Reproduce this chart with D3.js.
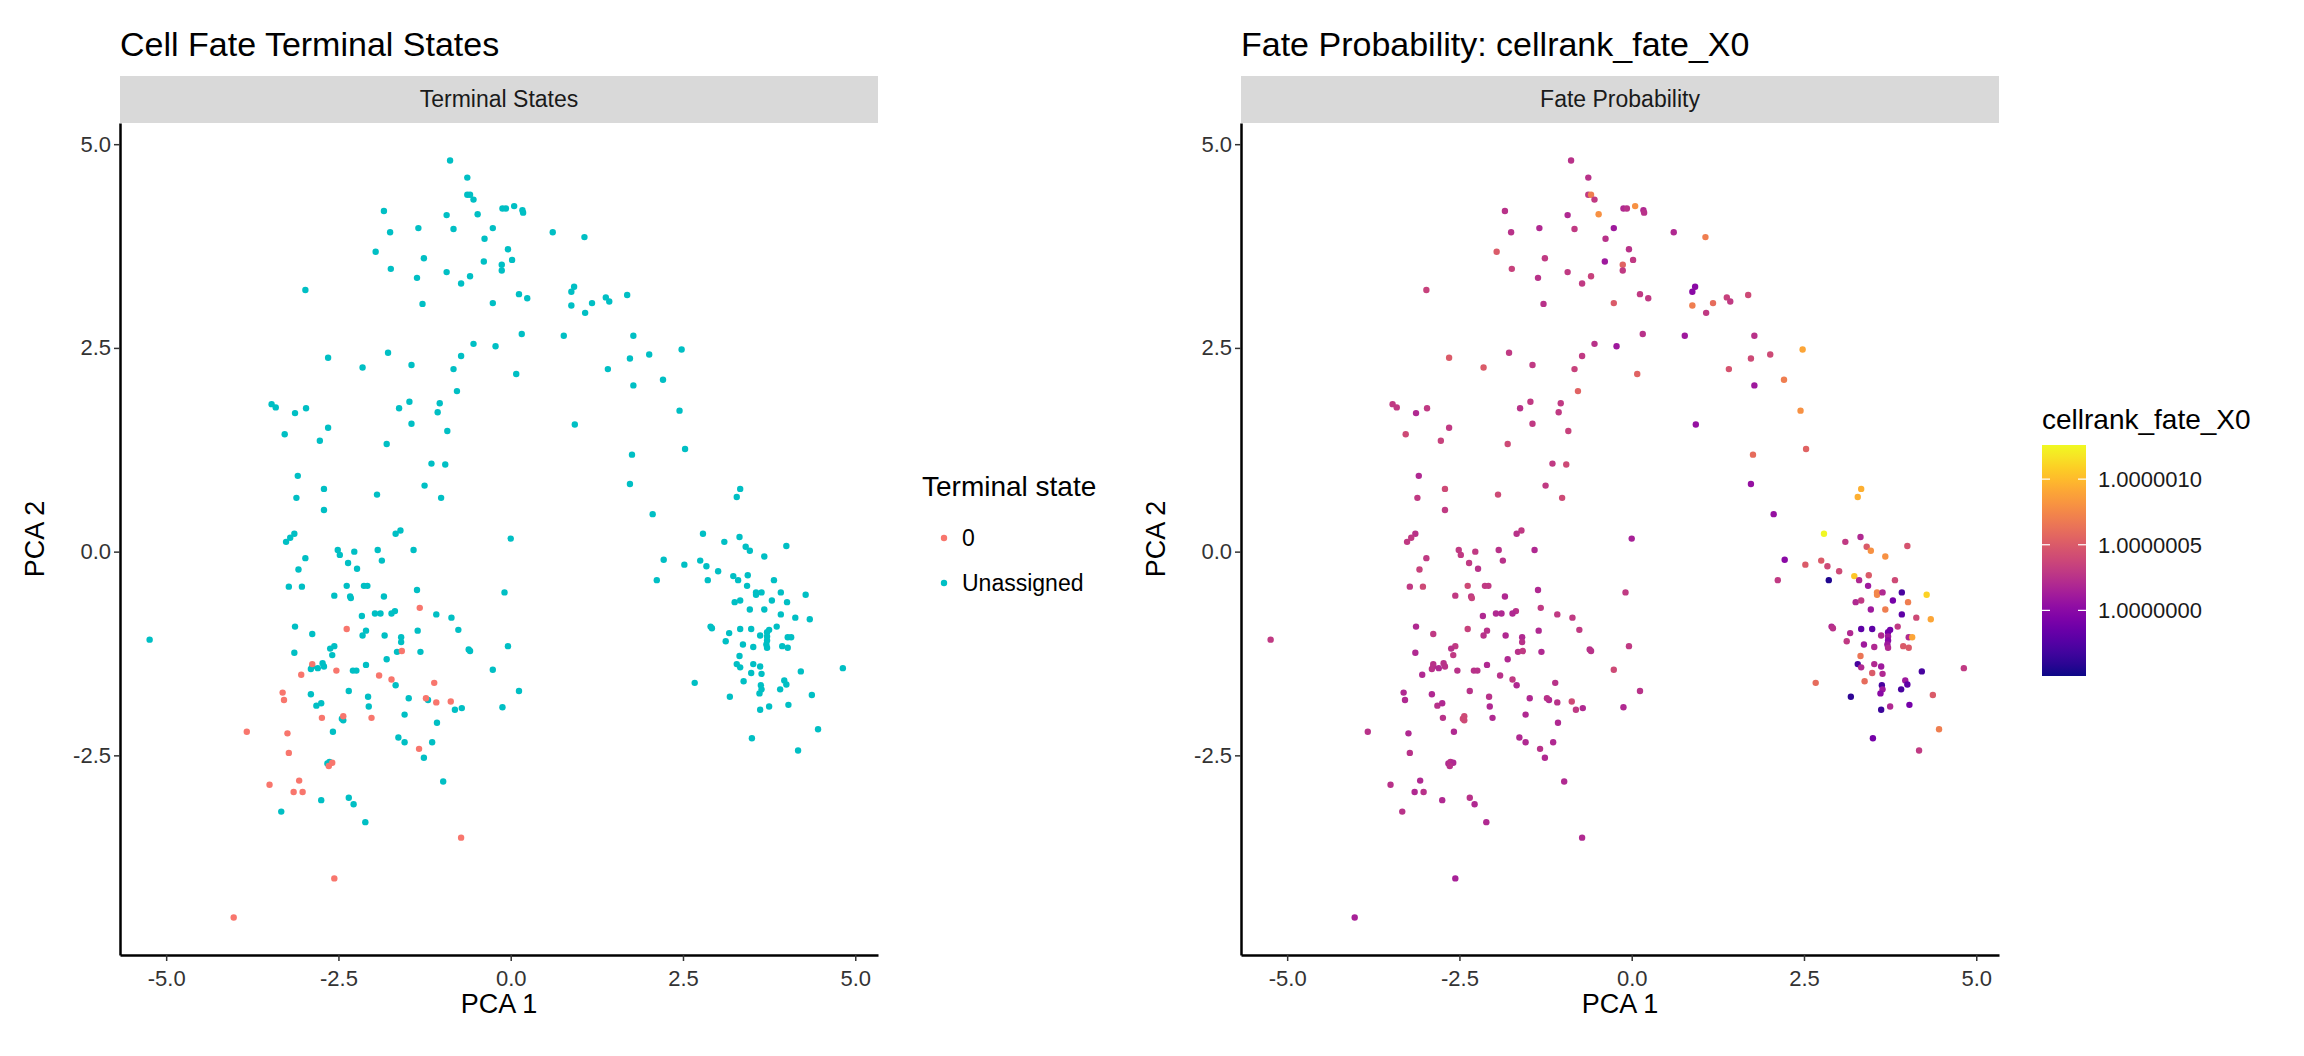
<!DOCTYPE html>
<html><head><meta charset="utf-8">
<script src="https://cdn.jsdelivr.net/npm/d3@7"></script>
<style>body{margin:0;background:#fff}text{font-family:"Liberation Sans",Arial,sans-serif}</style>
</head><body><svg id="c" width="2304" height="1056"></svg>
<script>
// [PCA1, PCA2, fate offset in units of 1e-7 above 1.0]
const unassignedCells = [
[-0.88,4.80,2.5],[-0.63,4.59,2.5],[-0.63,4.38,3],[-0.59,4.38,7],[-0.54,4.32,3],[-0.12,4.21,2],[-0.07,4.21,2.5],[0.05,4.24,8],[0.17,4.19,2],[0.18,4.16,2.5],
[-1.84,4.18,2.5],[-0.93,4.13,2],[-0.48,4.14,8],[-1.75,3.92,2.5],[-1.34,3.97,2],[-0.83,3.96,3],[-0.26,3.97,1],[-0.38,3.84,2.5],[0.61,3.92,2],[1.07,3.86,7],
[-1.96,3.68,5],[-1.26,3.60,3],[-0.04,3.71,2.5],[-0.39,3.56,1],[0.02,3.58,3],[-0.13,3.52,5.5],[-0.13,3.45,3],[-1.74,3.47,3.5],[-0.93,3.43,3],[-1.36,3.36,2.5],
[-0.59,3.38,3.5],[-0.72,3.29,3],[-2.98,3.21,3.5],[0.12,3.16,3],[0.24,3.11,3],[0.88,3.19,0],[0.92,3.25,0],[1.38,3.12,3.5],[1.43,3.07,3],[1.69,3.15,4],
[-1.28,3.04,2.5],[-0.26,3.05,5],[0.88,3.02,7],[1.18,3.05,6],[1.08,2.93,3],[0.16,2.67,2.5],[0.77,2.65,1],[1.78,2.65,2.5],[-0.54,2.55,2.5],[-0.22,2.52,1],
[2.48,2.48,9],[-1.78,2.44,3],[-0.72,2.40,3],[1.73,2.37,4],[2.01,2.42,4],[-2.65,2.38,5],[-1.44,2.29,3],[-2.15,2.26,5],[-0.83,2.24,3.5],[1.41,2.24,4.5],
[0.08,2.18,5.5],[2.21,2.11,7],[1.78,2.04,1],[-0.78,1.97,5.5],[-3.47,1.81,3],[-3.41,1.77,3],[-2.97,1.76,3],[-3.13,1.70,2],[-1.47,1.84,3],[-1.62,1.76,2.5],
[-1.03,1.82,3],[-1.06,1.71,3],[2.45,1.73,8],[-2.65,1.52,3],[-3.28,1.44,4],[-1.44,1.57,3],[0.93,1.56,0.5],[-0.92,1.48,3.5],[-2.77,1.36,3.5],[-1.80,1.32,4],
[2.53,1.26,5.5],[1.76,1.19,6],[-1.15,1.08,3],[-0.95,1.07,4],[-3.09,0.93,2],[-1.25,0.81,3],[-2.71,0.77,4],[1.73,0.83,0.5],[-1.94,0.70,4],[-3.11,0.66,3],
[-1.01,0.66,4],[3.33,0.77,9.5],[3.28,0.67,9.5],[-2.71,0.51,3],[2.06,0.46,0.5],[-1.60,0.26,3],[-1.67,0.22,2.5],[-3.14,0.22,2.5],[-3.20,0.17,3],[-3.26,0.12,3],
[0.00,0.16,1.5],[2.79,0.22,12.5],[3.10,0.12,3],[3.32,0.18,2],[3.41,0.06,5],[3.47,0.01,8],[4.00,0.07,4.5],[-2.51,0.02,3],[-2.48,-0.04,3],[-2.27,0.00,3],
[-1.93,0.02,2.5],[-1.41,0.02,2],[-1.87,-0.11,2.5],[-2.98,-0.08,3],[-2.36,-0.14,3],[-3.08,-0.22,3.5],[-2.23,-0.21,2.5],[2.22,-0.10,0],[2.52,-0.16,5],[2.75,-0.11,5],
[2.84,-0.18,4],[3.01,-0.24,4],[3.23,-0.30,10.5],[3.30,-0.35,2],[3.44,-0.29,5],[3.68,-0.06,8],[2.86,-0.35,-4.5],[2.12,-0.35,3],[3.43,-0.42,1],[3.56,-0.50,7.5],
[3.56,-0.53,7.5],[3.64,-0.50,2],[3.82,-0.35,4],[3.92,-0.50,-3],[4.28,-0.53,11],[-3.22,-0.43,3],[-3.03,-0.43,4],[-2.13,-0.42,3],[-2.08,-0.42,3],[-2.38,-0.42,4],
[-1.36,-0.47,2],[-2.56,-0.54,3],[-2.33,-0.55,3],[-2.32,-0.57,3.5],[-1.84,-0.55,2],[-0.09,-0.50,3],[3.25,-0.62,2],[3.33,-0.60,3],[3.79,-0.60,-1],[4.01,-0.62,7],
[3.47,-0.71,1],[3.68,-0.71,7],[3.92,-0.77,-2],[4.13,-0.81,4],[4.34,-0.83,9],[-1.97,-0.76,2],[-1.89,-0.76,2],[-1.68,-0.73,2.5],[-1.73,-0.76,2],[-2.16,-0.79,2],
[-1.08,-0.77,3],[-0.86,-0.81,3],[-3.13,-0.92,2],[2.90,-0.92,2],[2.92,-0.94,2.5],[3.33,-0.95,-2],[3.49,-0.95,-2],[3.86,-0.92,3],[3.72,-0.99,-1],[3.75,-0.96,-1],
[-2.10,-0.97,2.5],[-1.35,-0.97,2],[-0.76,-0.96,3],[-2.88,-1.01,3],[3.17,-1.00,2],[3.62,-1.03,2],[3.72,-1.04,1],[3.72,-1.09,0],[3.71,-1.14,1],[3.72,-1.18,2],
[4.02,-1.05,2],[4.07,-1.05,9],[3.94,-1.16,5],[4.02,-1.18,5],[3.12,-1.10,3],[3.37,-1.14,1],[3.52,-1.17,2],[-2.15,-1.03,2.5],[-1.83,-1.03,2],[-1.59,-1.05,2],
[-1.59,-1.11,2.5],[-2.56,-1.16,3],[-2.62,-1.19,2.5],[-0.61,-1.20,2.5],[-0.59,-1.22,2.5],[-0.04,-1.16,3],[-3.14,-1.24,2],[-1.31,-1.23,2],[-1.65,-1.23,2.5],[-1.80,-1.32,2],
[-2.59,-1.27,3],[-2.73,-1.37,2.5],[-2.71,-1.41,2.5],[-2.88,-1.41,2],[-2.90,-1.44,2.5],[-2.80,-1.43,2],[-2.10,-1.39,2],[-2.29,-1.46,2.5],[-2.24,-1.46,2.5],[-0.26,-1.45,4],
[3.32,-1.28,6.5],[3.28,-1.38,-3],[3.33,-1.42,2],[3.52,-1.38,2],[3.62,-1.41,1],[3.64,-1.50,2],[3.49,-1.49,5],[4.21,-1.47,-3],[4.82,-1.43,3],[3.97,-1.58,1],
[4.00,-1.63,-2],[3.63,-1.64,-3],[3.64,-1.69,1],[3.61,-1.74,0],[3.38,-1.59,6],[2.67,-1.61,6],[3.91,-1.69,-3],[4.37,-1.76,5],[3.18,-1.78,-4],[4.03,-1.88,-1],
[3.75,-1.90,2],[3.62,-1.94,-3.5],[-5.24,-1.08,3],[-2.35,-1.71,2.5],[-2.90,-1.75,2],[-1.67,-1.64,2],[-1.20,-1.82,2],[-1.48,-1.80,2],[-2.07,-1.78,2.5],[-2.06,-1.90,2],
[-2.82,-1.89,2.5],[-2.75,-1.86,2],[-2.45,-2.05,4],[-2.43,-2.07,4],[-1.54,-2.00,2],[-1.07,-2.10,2],[-0.12,-1.91,2],[-0.71,-1.92,2],[-0.81,-1.94,3],[0.12,-1.71,2.5],
[-2.58,-2.21,2],[-1.63,-2.28,2],[-1.54,-2.34,2],[-1.14,-2.34,2],[-1.26,-2.53,2],[3.50,-2.29,-1],[4.46,-2.18,7],[4.17,-2.44,3],[-2.66,-2.60,2],[-2.63,-2.58,2.5],
[-0.98,-2.82,2],[-2.35,-3.02,2.5],[-2.28,-3.10,2],[-2.75,-3.05,2],[-3.33,-3.19,2.5],[-2.11,-3.32,2]
];
const terminalCells = [
[-1.32,-0.69,3],[-2.38,-0.95,3.5],[-1.58,-1.22,3],[-2.88,-1.38,2.5],[-3.04,-1.51,2],[-2.53,-1.46,2.5],[-1.91,-1.52,2.5],[-1.73,-1.57,3],[-1.11,-1.61,2.5],[-3.31,-1.73,2],
[-3.29,-1.82,2],[-1.23,-1.80,2.5],[-1.08,-1.85,2.5],[-0.87,-1.84,4],[-2.74,-2.04,2.5],[-2.43,-2.02,4],[-2.02,-2.04,2],[-3.83,-2.21,2.5],[-3.24,-2.23,2],[-3.22,-2.47,2.5],
[-1.33,-2.42,2.5],[-2.59,-2.59,2],[-2.64,-2.63,2.5],[-3.50,-2.86,2.5],[-3.07,-2.81,2],[-3.15,-2.95,2],[-3.02,-2.95,2.5],[-0.72,-3.51,2],[-2.56,-4.01,1.5],[-4.02,-4.49,1.5]
];
const xTicks = [-5, -2.5, 0, 2.5, 5];
const yTicks = [-2.5, 0, 2.5, 5];
const legendStates = ["0", "Unassigned"];
const stateColors = ["#F8766D", "#00BFC4"];
const fateTicks = [0, 5, 10];
const fateTickLabels = ["1.0000000", "1.0000005", "1.0000010"];

const svg = d3.select("#c");
const fmt = d => d.toFixed(1);
const fateColor = d3.scaleSequential(d3.interpolatePlasma).domain([-5, 12.6]);

function panel(left, right, title, strip, drawPts) {
  const top = 123, bottom = 955;
  const x = d3.scaleLinear().domain([-5.67, 5.33]).range([left, right]);
  const y = d3.scaleLinear().domain([-4.95, 5.26]).range([bottom, top]);
  svg.append("text").attr("x", left).attr("y", 56).attr("font-size", 34).text(title);
  svg.append("rect").attr("x", left).attr("y", 76).attr("width", right - left).attr("height", 47).attr("fill", "#d9d9d9");
  svg.append("text").attr("x", (left + right) / 2).attr("y", 107).attr("text-anchor", "middle").attr("font-size", 23).attr("fill", "#1a1a1a").text(strip);
  const gx = svg.append("g").attr("transform", `translate(0,${bottom})`).call(d3.axisBottom(x).tickValues(xTicks).tickFormat(fmt).tickSize(6).tickSizeOuter(0));
  const gy = svg.append("g").attr("transform", `translate(${left},0)`).call(d3.axisLeft(y).tickValues(yTicks).tickFormat(fmt).tickSize(6).tickSizeOuter(0));
  [gx, gy].forEach(g => {
    g.selectAll("text").attr("font-size", 22).attr("fill", "#333").style("font-family", "Liberation Sans, Arial");
    g.select(".domain").attr("stroke", "#000").attr("stroke-width", 2.5);
    g.selectAll(".tick line").attr("stroke", "#333").attr("stroke-width", 1.5);
  });
  gx.selectAll("text").attr("dy", "1.0em");
  svg.append("text").attr("x", (left + right) / 2).attr("y", 1013).attr("text-anchor", "middle").attr("font-size", 27).text("PCA 1");
  svg.append("text").attr("transform", `translate(${left - 76},${(top + bottom) / 2}) rotate(-90)`).attr("text-anchor", "middle").attr("font-size", 27).text("PCA 2");
  drawPts(svg.append("g"), x, y);
}

panel(120, 878, "Cell Fate Terminal States", "Terminal States", (g, x, y) => {
  g.selectAll(".u").data(unassignedCells).join("circle").attr("cx", d => x(d[0])).attr("cy", d => y(d[1])).attr("r", 3.2).attr("fill", stateColors[1]);
  g.selectAll(".t").data(terminalCells).join("circle").attr("cx", d => x(d[0])).attr("cy", d => y(d[1])).attr("r", 3.2).attr("fill", stateColors[0]);
});
panel(1241, 1999, "Fate Probability: cellrank_fate_X0", "Fate Probability", (g, x, y) => {
  g.selectAll("circle").data(unassignedCells.concat(terminalCells)).join("circle")
    .attr("cx", d => x(d[0])).attr("cy", d => y(d[1])).attr("r", 3.2).attr("fill", d => fateColor(d[2]));
});

// legend left
svg.append("text").attr("x", 922).attr("y", 496).attr("font-size", 28).text("Terminal state");
legendStates.forEach((s, i) => {
  svg.append("circle").attr("cx", 944).attr("cy", 538 + i * 45).attr("r", 3.2).attr("fill", stateColors[i]);
  svg.append("text").attr("x", 962).attr("y", 546 + i * 45).attr("font-size", 23).text(s);
});

// colorbar
const cbTop = 445, cbBot = 676, cbX = 2042, cbW = 44;
const defs = svg.append("defs");
const grad = defs.append("linearGradient").attr("id", "gr").attr("x1", 0).attr("y1", 1).attr("x2", 0).attr("y2", 0);
d3.range(0, 1.001, 0.05).forEach(t => grad.append("stop").attr("offset", t).attr("stop-color", d3.interpolatePlasma(t)));
svg.append("text").attr("x", cbX).attr("y", 429).attr("font-size", 28).text("cellrank_fate_X0");
svg.append("rect").attr("x", cbX).attr("y", cbTop).attr("width", cbW).attr("height", cbBot - cbTop).attr("fill", "url(#gr)");
const cy = d3.scaleLinear().domain([-5, 12.6]).range([cbBot, cbTop]);
fateTicks.forEach((v, i) => {
  svg.append("line").attr("x1", cbX).attr("x2", cbX + 8).attr("y1", cy(v)).attr("y2", cy(v)).attr("stroke", "#fff").attr("stroke-width", 1.2);
  svg.append("line").attr("x1", cbX + cbW - 8).attr("x2", cbX + cbW).attr("y1", cy(v)).attr("y2", cy(v)).attr("stroke", "#fff").attr("stroke-width", 1.2);
  svg.append("text").attr("x", cbX + cbW + 12).attr("y", cy(v) + 8).attr("font-size", 22).attr("fill", "#1a1a1a").text(fateTickLabels[i]);
});
</script></body></html>
